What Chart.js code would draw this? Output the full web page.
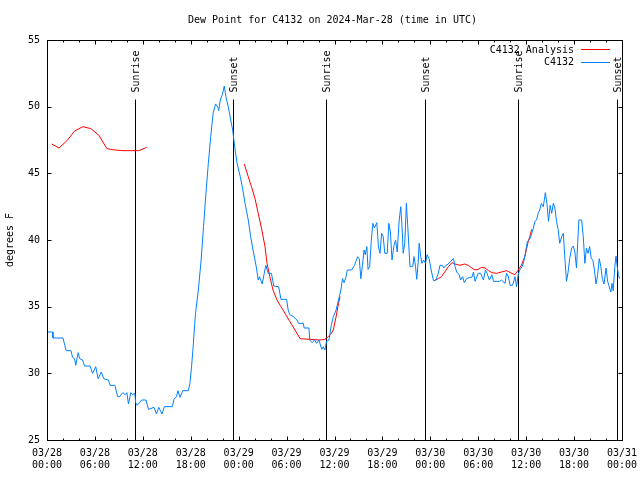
<!DOCTYPE html>
<html>
<head>
<meta charset="utf-8">
<title>Dew Point for C4132</title>
<script src="https://cdn.jsdelivr.net/npm/chart.js@4.4.1/dist/chart.umd.min.js"></script>
<style>
html, body { margin: 0; padding: 0; background: #fff; }
#wrap { width: 640px; height: 480px; }
</style>
</head>
<body>
<div id="wrap"><canvas id="chart" width="640" height="480"></canvas></div>
<script>
// time is in hours since 03/28 00:00 UTC

// C4132 observations
const obsHours = [
  0.0, 0.7, 0.75, 2.0, 2.4, 3.0, 3.2, 3.45, 3.6, 3.9, 4.1, 4.45, 4.7, 5.4, 5.7, 6.1, 6.4, 6.8, 7.1, 7.7,
  7.9, 8.5, 8.85, 9.1, 9.5, 9.8, 10.0, 10.2, 10.5, 10.7, 11.0, 11.1, 11.3, 11.85, 12.4, 12.7, 13.4, 13.7, 14.0, 14.4,
  14.7, 15.7, 15.9, 16.2, 16.4, 16.65, 17.0, 17.7, 17.9, 18.1, 18.3, 18.5, 18.6, 18.95, 19.3, 19.6, 19.9, 20.2, 20.5, 20.8,
  21.1, 21.4, 21.5, 21.7, 21.95, 22.2, 22.4, 22.7, 23.0, 23.25, 23.5, 23.8, 24.2, 24.45, 24.8, 25.2, 25.5, 25.8, 26.2, 26.45,
  26.6, 26.95, 27.2, 27.4, 27.7, 28.1, 28.4, 29.0, 29.3, 30.0, 30.2, 30.4, 30.85, 31.3, 31.5, 32.1, 32.2, 32.8, 32.9, 33.2,
  33.5, 33.75, 34.05, 34.4, 34.6, 34.8, 35.0, 35.3, 35.6, 35.85, 36.2, 36.5, 36.8, 37.0, 37.2, 37.45, 37.6, 38.15, 38.5, 38.9,
  39.1, 39.3, 39.5, 39.7, 39.85, 40.05, 40.2, 40.4, 40.6, 40.8, 41.0, 41.3, 41.5, 41.7, 41.9, 42.1, 42.3, 42.6, 42.8, 43.0,
  43.2, 43.45, 43.65, 43.85, 44.1, 44.3, 44.5, 44.6, 44.8, 45.0, 45.2, 45.45, 45.8, 45.95, 46.15, 46.3, 46.5, 46.6, 46.8, 46.95,
  47.15, 47.4, 47.6, 47.85, 48.1, 48.4, 48.7, 49.0, 49.2, 49.5, 49.7, 49.95, 50.25, 50.55, 50.9, 51.1, 51.3, 51.6, 51.8, 52.05,
  52.25, 52.55, 52.9, 53.2, 53.4, 53.6, 54.0, 54.3, 54.65, 54.9, 55.1, 55.4, 55.7, 55.9, 56.7, 56.9, 57.35, 57.55, 57.75, 58.0,
  58.3, 58.6, 58.8, 59.0, 59.2, 59.5, 59.7, 59.9, 60.15, 60.35, 60.55, 60.9, 61.1, 61.3, 61.5, 61.7, 61.9, 62.15, 62.4, 62.6,
  62.8, 63.0, 63.2, 63.4, 63.6, 63.8, 64.0, 64.2, 64.45, 64.65, 64.85, 65.05, 65.25, 65.45, 65.7, 65.9, 66.1, 66.3, 66.45, 66.6,
  66.95, 67.15, 67.35, 67.55, 67.75, 67.95, 68.15, 68.35, 68.55, 68.75, 68.95, 69.15, 69.35, 69.55, 69.75, 70.0, 70.2, 70.35, 70.6, 70.75,
  70.9, 71.1, 71.25, 71.4, 71.55, 71.7
];
const obsValues = [
  33.1, 33.1, 32.65, 32.65, 31.7, 31.7, 31.2, 31.1, 30.6, 31.55, 31.1, 31.0, 30.55, 30.55, 30.0, 30.5, 29.6, 30.1, 29.6, 29.5,
  29.1, 29.1, 28.25, 28.25, 28.55, 28.4, 28.55, 27.7, 28.55, 28.4, 28.5, 27.8, 27.6, 28.0, 28.0, 27.3, 27.45, 26.95, 27.45, 26.95,
  27.5, 27.5, 28.05, 28.25, 28.7, 28.2, 28.7, 28.7, 29.25, 30.5, 32.0, 33.75, 34.5, 36.25, 38.5, 41.0, 43.5, 45.75, 47.75, 49.5,
  50.2, 49.95, 49.7, 50.5, 50.9, 51.55, 50.75, 50.0, 49.0, 48.25, 47.0, 45.75, 44.75, 44.0, 42.75, 41.5, 40.25, 39.25, 38.0, 37.0,
  37.25, 36.7, 37.5, 38.1, 37.5, 37.5, 36.55, 36.5, 35.55, 35.55, 34.75, 34.4, 34.25, 34.0, 33.75, 33.75, 33.4, 33.4, 32.5, 32.3,
  32.5, 32.25, 32.5, 31.8, 32.0, 31.75, 32.4, 32.5, 33.6, 34.25, 34.75, 35.5, 36.25, 37.1, 36.8, 37.25, 37.75, 37.75, 38.1, 38.75,
  38.6, 37.1, 38.1, 39.25, 38.9, 39.5, 37.8, 38.0, 39.9, 41.25, 40.9, 41.3, 39.5, 39.0, 40.5, 40.25, 39.0, 39.0, 41.25, 40.6,
  38.5, 39.6, 40.0, 39.1, 41.5, 42.5, 40.5, 39.0, 39.75, 42.75, 40.75, 38.0, 38.0, 38.75, 38.0, 37.05, 38.5, 39.75, 38.75, 38.25,
  38.5, 38.25, 38.9, 38.6, 37.75, 36.95, 37.0, 37.5, 38.1, 38.1, 37.9, 38.1, 38.2, 38.4, 38.6, 38.0, 37.6, 37.4, 37.0, 37.25,
  36.8, 37.1, 37.2, 37.2, 37.6, 36.9, 37.5, 37.5, 37.0, 37.75, 37.5, 37.0, 37.4, 36.9, 36.9, 37.0, 36.75, 37.5, 37.3, 36.6,
  36.6, 37.25, 36.5, 37.4, 37.75, 38.0, 38.4, 39.0, 39.9, 40.0, 40.2, 40.9, 41.4, 41.5, 42.0, 42.25, 42.75, 42.5, 43.55, 42.75,
  41.4, 42.6, 42.0, 42.75, 42.4, 41.4, 40.8, 39.75, 40.25, 40.5, 38.6, 36.9, 37.6, 38.6, 39.4, 39.55, 39.1, 37.9, 39.75, 41.5,
  41.5, 40.25, 38.25, 39.4, 39.0, 39.5, 38.6, 38.5, 37.75, 36.7, 37.4, 38.6, 38.0, 37.05, 36.7, 37.9, 36.9, 36.6, 36.1, 36.75,
  36.2, 38.0, 38.8, 38.0, 37.4, 37.1
];

// C4132 Analysis (null = gap)
const anaHours = [
  0.6, 1.5, 2.5, 3.5, 4.5, 5.5, 6.5, 7.5, 8.5, 9.5, 10.5, 11.5, 12.5, 13.0,
  24.7, 25.2, 25.6, 26.05, 26.45, 26.9, 27.3, 27.55, 27.9, 28.3, 28.8, 29.2, 29.8, 30.4, 31.05, 31.7, 32.9, 34.2, 34.8, 35.2,
  35.5, 35.85, 36.2, 36.5, 36.7, 40.0,
  48.5, 49.0, 49.4, 49.8, 50.25, 50.7, 51.1, 51.7, 52.3, 52.75, 53.2, 53.6, 54.0, 54.4, 54.85, 55.3, 55.7, 56.3, 56.9, 57.55,
  58.2, 58.6, 59.0, 59.4, 59.85, 60.2, 60.45, 60.7
];
const anaValues = [
  47.2, 46.9, 47.45, 48.2, 48.5, 48.35, 47.85, 46.85, 46.75, 46.7, 46.7, 46.7, 46.95, null,
  45.7, 44.75, 44.0, 43.1, 42.0, 40.75, 39.5, 38.25, 37.25, 36.25, 35.5, 35.1, 34.5, 33.9, 33.25, 32.6, 32.55, 32.5, 32.55, 32.75,
  32.9, 33.25, 34.25, 35.25, 35.75, null,
  36.95, 37.1, 37.25, 37.6, 38.0, 38.3, 38.2, 38.1, 38.2, 38.1, 37.9, 37.75, 37.8, 37.95, 37.9, 37.7, 37.55, 37.5, 37.6, 37.7,
  37.5, 37.4, 37.75, 38.1, 38.8, 39.75, 40.25, 40.8
];

// sunrise / sunset markers
const sunHours = [11.07, 23.35, 34.98, 47.37, 59.02, 71.41];
const sunLabels = ['Sunrise', 'Sunset', 'Sunrise', 'Sunset', 'Sunrise', 'Sunset'];

// x tick labels, one per 6 hours
const xTickLabels = [
  ['03/28', '00:00'], ['03/28', '06:00'], ['03/28', '12:00'], ['03/28', '18:00'],
  ['03/29', '00:00'], ['03/29', '06:00'], ['03/29', '12:00'], ['03/29', '18:00'],
  ['03/30', '00:00'], ['03/30', '06:00'], ['03/30', '12:00'], ['03/30', '18:00'],
  ['03/31', '00:00']
];

const FONT = 'DejaVu Sans Mono';
Chart.defaults.font.family = FONT;
Chart.defaults.font.size = 10;
Chart.defaults.color = '#000';

const obsData = obsHours.map((h, i) => ({ x: h, y: obsValues[i] }));
const anaData = anaHours.map((h, i) => ({ x: h, y: anaValues[i] }));

// gnuplot-like frame, inward ticks, sun markers, title and legend
const framePlugin = {
  id: 'frame',
  beforeDatasetsDraw(chart) {
    const ctx = chart.ctx;
    const x = chart.scales.x, y = chart.scales.y;
    const top = Math.round(y.getPixelForValue(50.6)) + 0.5;
    const bottom = chart.chartArea.bottom;
    ctx.save();
    ctx.strokeStyle = '#000';
    ctx.lineWidth = 1;
    sunHours.forEach((h, i) => {
      const px = Math.round(x.getPixelForValue(h)) + 0.5;
      ctx.beginPath();
      ctx.moveTo(px, top);
      ctx.lineTo(px, bottom);
      ctx.stroke();
      ctx.save();
      ctx.translate(px + 1, top - 7);
      ctx.rotate(-Math.PI / 2);
      ctx.fillStyle = '#000';
      ctx.font = '10px ' + FONT;
      ctx.textAlign = 'left';
      ctx.textBaseline = 'middle';
      ctx.fillText(sunLabels[i], 0, 0);
      ctx.restore();
    });
    ctx.restore();
  },
  afterDatasetsDraw(chart) {
    const ctx = chart.ctx;
    const a = chart.chartArea;
    const x = chart.scales.x, y = chart.scales.y;
    ctx.save();
    ctx.strokeStyle = '#000';
    ctx.lineWidth = 1;
    const l = Math.round(a.left) + 0.5, r = Math.round(a.right) + 0.5;
    const t = Math.round(a.top) + 0.5, b = Math.round(a.bottom) + 0.5;
    ctx.strokeRect(l, t, r - l, b - t);
    ctx.beginPath();
    for (let h = 0; h <= 72; h += 2) {
      const px = Math.round(x.getPixelForValue(h)) + 0.5;
      const len = h % 6 === 0 ? 4 : 2;
      ctx.moveTo(px, b); ctx.lineTo(px, b - len);
      ctx.moveTo(px, t); ctx.lineTo(px, t + len);
    }
    for (let v = 25; v <= 55; v += 5) {
      const py = Math.round(y.getPixelForValue(v)) + 0.5;
      ctx.moveTo(l, py); ctx.lineTo(l + 4, py);
      ctx.moveTo(r, py); ctx.lineTo(r - 4, py);
    }
    ctx.stroke();

    // title
    ctx.fillStyle = '#000';
    ctx.font = '10px ' + FONT;
    ctx.textAlign = 'center';
    ctx.textBaseline = 'middle';
    ctx.fillText('Dew Point for C4132 on 2024-Mar-28 (time in UTC)', (a.left + a.right) / 2 - 2, 20);

    // legend (key) in the top right, text right-aligned before the sample line
    const order = [1, 0];
    order.forEach((di, row) => {
      const ds = chart.data.datasets[di];
      const ly = 50 + row * 12.5;
      ctx.textAlign = 'right';
      ctx.fillText(ds.label, a.right - 48, ly);
      ctx.beginPath();
      ctx.strokeStyle = ds.borderColor;
      ctx.moveTo(a.right - 41, Math.round(ly) - 0.5);
      ctx.lineTo(a.right - 12, Math.round(ly) - 0.5);
      ctx.stroke();
    });
    ctx.restore();
  }
};

new Chart(document.getElementById('chart'), {
  type: 'line',
  data: {
    datasets: [
      { label: 'C4132', data: obsData, borderColor: '#0080ff', borderWidth: 1, pointRadius: 0, tension: 0, spanGaps: false },
      { label: 'C4132 Analysis', data: anaData, borderColor: '#ff0000', borderWidth: 1, pointRadius: 0, tension: 0, spanGaps: false }
    ]
  },
  options: {
    responsive: false,
    animation: false,
    devicePixelRatio: 1,
    layout: { padding: { top: 40, right: 18, bottom: 0, left: 0 } },
    plugins: { legend: { display: false }, title: { display: false }, tooltip: { enabled: false } },
    scales: {
      x: {
        type: 'linear',
        min: 0,
        max: 72,
        afterFit: (s) => { s.height = 40; s.paddingRight = 0; },
        grid: { display: false, drawTicks: false },
        border: { display: false },
        ticks: {
          stepSize: 6,
          autoSkip: false,
          maxRotation: 0,
          padding: 7,
          font: { size: 10, lineHeight: 1.25 },
          callback: (v) => xTickLabels[Math.round(v / 6)]
        }
      },
      y: {
        min: 25,
        max: 55,
        afterFit: (s) => { s.width = 47; },
        grid: { display: false, drawTicks: false },
        border: { display: false },
        ticks: { stepSize: 5, padding: 7, font: { size: 10 } },
        title: { display: true, text: 'degrees F', font: { size: 10 }, padding: { top: 4, bottom: 0 } }
      }
    }
  },
  plugins: [framePlugin]
});
</script>
</body>
</html>
